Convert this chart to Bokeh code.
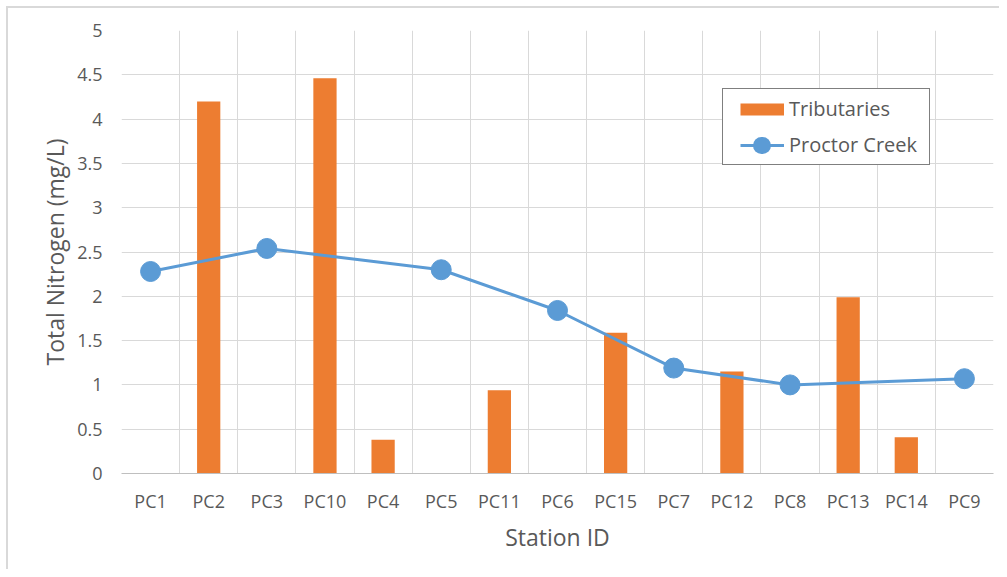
from bokeh.plotting import figure
from bokeh.models import Range1d, FixedTicker, Legend, LegendItem, ColumnDataSource
from bokeh.embed import file_html
from bokeh.resources import INLINE

categories = ["PC1", "PC2", "PC3", "PC10", "PC4", "PC5", "PC11", "PC6",
              "PC15", "PC7", "PC12", "PC8", "PC13", "PC14", "PC9"]
trib_stations = ["PC2", "PC10", "PC4", "PC11", "PC15", "PC12", "PC13", "PC14"]
trib_values = [4.20, 4.46, 0.38, 0.94, 1.59, 1.15, 1.99, 0.41]
creek_stations = ["PC1", "PC3", "PC5", "PC6", "PC7", "PC8", "PC9"]
creek_values = [2.28, 2.54, 2.30, 1.84, 1.19, 1.00, 1.07]
y_ticks = [0, 0.5, 1, 1.5, 2, 2.5, 3, 3.5, 4, 4.5, 5]
y_tick_labels = ["0", "0.5", "1", "1.5", "2", "2.5", "3", "3.5", "4", "4.5", "5"]

ORANGE = "#ed7d31"
BLUE = "#5b9bd5"
TXT = "#595959"
GRID = "#d9d9d9"
FONT = "Open Sans"
NAN = float("nan")

pos = {c: i + 0.5 for i, c in enumerate(categories)}
trib_src = ColumnDataSource(dict(x=[pos[s] for s in trib_stations], y=trib_values))
creek_src = ColumnDataSource(dict(x=[pos[s] for s in creek_stations], y=creek_values))

p = figure(width=999, height=569, output_backend="svg", toolbar_location=None,
           x_range=Range1d(0, len(categories)), y_range=Range1d(0, 5),
           min_border_left=121, min_border_right=6, min_border_top=30, min_border_bottom=96)
p.frame_width = 872
p.frame_height = 443
p.outline_line_color = None
p.background_fill_color = "white"
p.border_fill_color = "white"
p.border_fill_alpha = 0
p.styles = {"box-shadow": "inset 6px 6px 0 0 white, inset 8px 8px 0 0 #d9d9d9"}

p.vbar(x="x", top="y", width=0.4, source=trib_src, fill_color=ORANGE, line_color=None)
creek_line = p.line(x="x", y="y", source=creek_src, line_color=BLUE, line_width=3)
p.scatter(x="x", y="y", source=creek_src, size=20, fill_color=BLUE, line_color=BLUE)

# legend-only renderers (no visible data)
trib_key = p.line(x=[NAN], y=[NAN], line_color=ORANGE, line_width=12, line_cap="butt",
                  line_dash="44 500", line_dash_offset=-11)
creek_key = p.line(x=[NAN], y=[NAN], line_color=BLUE, line_width=3, line_cap="butt",
                   line_dash="44 500", line_dash_offset=-11)
creek_dot = p.line(x=[NAN], y=[NAN], line_color=BLUE, line_width=17, line_cap="round",
                   line_dash="1 400", line_dash_offset=-32)

# axes
p.xaxis.ticker = FixedTicker(ticks=[pos[c] for c in categories])
p.xaxis.major_label_overrides = {pos[c]: c for c in categories}
p.yaxis.ticker = FixedTicker(ticks=y_ticks)
p.yaxis.major_label_overrides = dict(zip(y_ticks, y_tick_labels))
p.xgrid.ticker = FixedTicker(ticks=list(range(len(categories) + 1)))
p.ygrid.ticker = FixedTicker(ticks=y_ticks)
for g in (p.xgrid, p.ygrid):
    g.grid_line_color = GRID
    g.grid_line_width = 1

for ax in (p.xaxis, p.yaxis):
    ax.major_tick_line_color = None
    ax.minor_tick_line_color = None
    ax.major_label_text_font = FONT
    ax.major_label_text_font_size = "18px"
    ax.major_label_text_color = TXT
    ax.axis_label_text_font = FONT
    ax.axis_label_text_font_size = "23px"
    ax.axis_label_text_font_style = "normal"
    ax.axis_label_text_color = TXT
p.yaxis.axis_line_color = None
p.xaxis.axis_line_color = "#bfbfbf"
p.xaxis.major_label_standoff = 9
p.yaxis.major_label_standoff = 13
p.xaxis.axis_label = "Station ID"
p.yaxis.axis_label = "Total Nitrogen (mg/L)"
p.xaxis.axis_label_standoff = 5
p.yaxis.axis_label_standoff = 3

legend = Legend(items=[LegendItem(label="Tributaries", renderers=[trib_key]),
                       LegendItem(label="Proctor Creek", renderers=[creek_key, creek_dot])],
                location=(601, 308), orientation="vertical",
                glyph_width=55, glyph_height=22, label_standoff=5, spacing=9, padding=6,
                label_width=134,
                margin=0, label_text_font=FONT, label_text_font_size="20px",
                label_text_color=TXT, border_line_color="black", border_line_width=1,
                background_fill_color="white", background_fill_alpha=1)
p.add_layout(legend)

open("out.html", "w").write(file_html(p, INLINE))
